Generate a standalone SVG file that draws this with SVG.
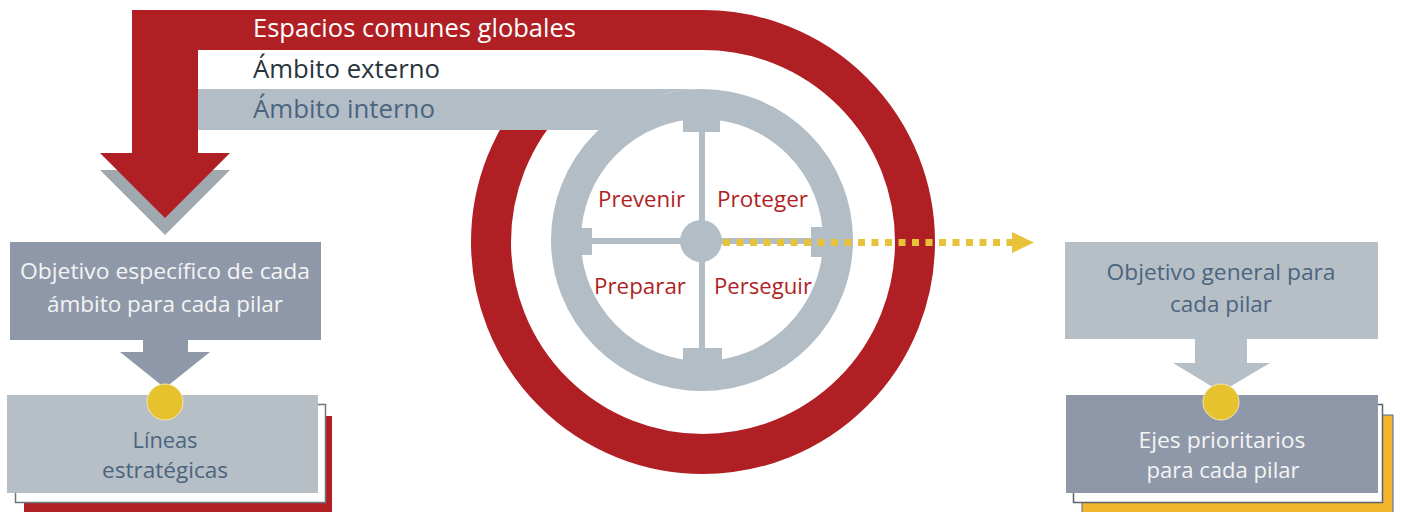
<svg xmlns="http://www.w3.org/2000/svg" width="1401" height="512" viewBox="0 0 1401 512">
<style>
text{font-family:"Open Sans","Noto Sans","Liberation Sans",sans-serif;}
.red{fill:#B01F24;}
.band{fill:#B3BDC6;}
.dark{fill:#8F98A8;}
.light{fill:#B6BEC6;}
.lbl{font-size:22px;fill:#B01F24;}
.box{font-size:21.5px;text-anchor:middle;}
.wt{fill:#F4F4F4;}
.sl{fill:#4B6580;}
.dot{fill:#E6C22F;}
</style>
<rect width="1401" height="512" fill="#FFFFFF"/>
<g id="bands">
  <polygon points="100,170 230,170 165,235" fill="#A0A8B0"/>
  <circle cx="703" cy="242" r="212" fill="none" stroke="#B01F24" stroke-width="40"/>
  <path class="red" d="M703,10 H132 V153 H100 L165,218 L230,153 H198 V50 H703 Z"/>
  <rect x="198" y="50" width="505" height="39" fill="#FFFFFF"/>
  <path class="band" d="M198,89 H702 A151,151 0 0 0 599,130 H198 Z"/>
  <text x="253" y="37" font-size="25" fill="#FFFFFF" textLength="323" lengthAdjust="spacingAndGlyphs">Espacios comunes globales</text>
  <text x="253" y="78" font-size="25" fill="#27343C" textLength="187" lengthAdjust="spacingAndGlyphs">Ámbito externo</text>
  <text x="253" y="118" font-size="25" fill="#4B6580" textLength="182" lengthAdjust="spacingAndGlyphs">Ámbito interno</text>
</g>
<g id="pillars">
  <circle cx="702" cy="240" r="136" fill="none" stroke="#B3BDC6" stroke-width="30"/>
  <rect class="band" x="683" y="116" width="37" height="16"/>
  <rect class="band" x="683" y="348" width="39" height="16"/>
  <rect class="band" x="574" y="228" width="18" height="27"/>
  <rect class="band" x="811" y="227" width="18" height="30"/>
  <rect class="band" x="699" y="120" width="6" height="240"/>
  <rect class="band" x="580" y="238" width="240" height="6"/>
  <circle class="band" cx="701" cy="241" r="21"/>
  <text class="lbl" x="598" y="207" textLength="87" lengthAdjust="spacingAndGlyphs">Prevenir</text>
  <text class="lbl" x="717" y="207" textLength="91" lengthAdjust="spacingAndGlyphs">Proteger</text>
  <text class="lbl" x="594" y="294" textLength="92" lengthAdjust="spacingAndGlyphs">Preparar</text>
  <text class="lbl" x="714" y="294" textLength="98" lengthAdjust="spacingAndGlyphs">Perseguir</text>
</g>
<g id="connectors">
  <line x1="723" y1="242.5" x2="1012" y2="242.5" stroke="#E8C33A" stroke-width="7" stroke-dasharray="7 6.5"/>
  <polygon points="1012,232 1034,242.5 1012,253" fill="#E8C33A"/>
  <polygon class="dark" points="143,339 188,339 188,352 210,352 165,388 120,352 143,352"/>
  <polygon class="light" points="1195,338 1247,338 1247,363 1270,363 1221,392 1173,363 1195,363"/>
</g>
<g id="obj-especifico">
  <rect class="dark" x="10" y="242" width="311" height="98"/>
  <text class="box wt" x="165" y="279" textLength="290" lengthAdjust="spacingAndGlyphs">Objetivo específico de cada</text>
  <text class="box wt" x="165" y="312" textLength="236" lengthAdjust="spacingAndGlyphs">ámbito para cada pilar</text>
</g>
<g id="lineas">
  <rect class="red" x="24" y="416" width="308" height="100"/>
  <rect x="15.5" y="404.5" width="310" height="98" fill="#FFFFFF" stroke="#6E757B" stroke-width="1.5"/>
  <rect class="light" x="7" y="395" width="311" height="98"/>
  <circle class="dot" cx="165" cy="402" r="18" stroke="#F4E6B0" stroke-width="1"/>
  <text class="box sl" x="165" y="448" textLength="65" lengthAdjust="spacingAndGlyphs">Líneas</text>
  <text class="box sl" x="165" y="478" textLength="126" lengthAdjust="spacingAndGlyphs">estratégicas</text>
</g>
<g id="obj-general">
  <rect class="light" x="1065" y="242" width="313" height="97"/>
  <text class="box sl" x="1221" y="280" textLength="229" lengthAdjust="spacingAndGlyphs">Objetivo general para</text>
  <text class="box sl" x="1221" y="312" textLength="102" lengthAdjust="spacingAndGlyphs">cada pilar</text>
</g>
<g id="ejes">
  <rect x="1082" y="415" width="311" height="100" fill="#F2B52D" stroke="#3F6F9E" stroke-width="1"/>
  <rect x="1073.5" y="404.5" width="309" height="98" fill="#FFFFFF" stroke="#5C6268" stroke-width="1.5"/>
  <rect class="dark" x="1066" y="395" width="312" height="98"/>
  <circle class="dot" cx="1221" cy="402" r="18" stroke="#F4E6B0" stroke-width="1"/>
  <text class="box wt" x="1222" y="448" textLength="167" lengthAdjust="spacingAndGlyphs">Ejes prioritarios</text>
  <text class="box wt" x="1223" y="478" textLength="153" lengthAdjust="spacingAndGlyphs">para cada pilar</text>
</g>
</svg>
